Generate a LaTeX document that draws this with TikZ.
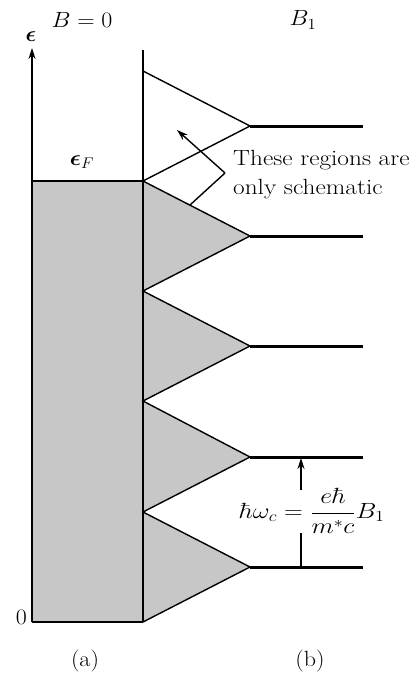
\RequirePackage{fix-cm}
\documentclass[tikz,border=0pt]{standalone}
\usepackage{amsmath}
\usetikzlibrary{arrows.meta}
\newcommand\hstretch[2]{\scalebox{#1}[1]{#2}}
\begin{document}
\begin{tikzpicture}[x=1pt,y=-1pt,
  thin line/.style={line width=1.4pt},
  level line/.style={line width=3pt},
  txt/.style={font=\fontsize{22}{29}\selectfont, inner sep=0pt},
  tip/.style={-{Stealth[length=11pt,width=7pt]}},
  shade/.style={fill=black!22}]
\useasboundingbox (0,0) rectangle (420,675);
% coordinates
\coordinate (A0) at (32,622);
\coordinate (Atop) at (32,48);
\coordinate (F0) at (32,181);
\coordinate (F1) at (143,181);
\coordinate (M0) at (143,622);
\coordinate (Mtop) at (143,50);
% shaded regions
\fill[shade] (F0) -- (F1) -- (250,236) -- (143,291) -- (250,346) -- (143,401)
  -- (250,457) -- (143,512) -- (250,567) -- (M0) -- (A0) -- cycle;
% axes and box
\draw[thin line, tip] (A0) -- (Atop);
\draw[thin line] (A0) -- (M0);
\draw[thin line] (F0) -- (F1);
\draw[thin line] (M0) -- (Mtop);
% zigzag
\draw[thin line] (143,71) -- (250,126) -- (143,181) -- (250,236) -- (143,291)
  -- (250,346) -- (143,401) -- (250,457) -- (143,512) -- (250,567) -- (M0);
% Landau levels
\foreach \y/\n in {126/1,236/2,346/3,457/4,567/5}{
  \coordinate (L\n a) at (250,\y);
  \coordinate (L\n b) at (363,\y);
  \draw[level line] (L\n a) -- (L\n b);
}
% pointer
\coordinate (V) at (225,173);
\coordinate (P1) at (177,130);
\coordinate (P2) at (190,205);
\draw[thin line, tip] (V) -- (P1);
\draw[thin line] (V) -- (P2);
% spacing arrow
\coordinate (S1) at (301,490);
\coordinate (S2) at (301,458);
\coordinate (S3) at (301,533);
\coordinate (S4) at (301,567);
\draw[thin line, tip] (S1) -- (S2);
\draw[thin line] (S3) -- (S4);
% labels
\node[txt] (lB0) at (82,20) {\hstretch{1.09}{$B = 0$}};
\node[txt] (lB1) at (303,20) {\hstretch{1.09}{$B_1$}};
\node[txt] (leps) at (31,37) {$\boldsymbol{\epsilon}$};
\node[txt] (lepsF) at (82,162) {\hstretch{1.05}{$\boldsymbol{\epsilon}_F$}};
\node[txt, anchor=east] (lzero) at (27,617) {\hstretch{1.09}{0}};
\node[txt, anchor=west] (lnote1) at (233,160) {\hstretch{1.15}{These regions are}};
\node[txt, anchor=west] (lnote2) at (233,189) {\hstretch{1.15}{only schematic}};
\node[txt] (lform) at (312,511) {\hstretch{1.18}{$\hbar\omega_c = \dfrac{e\hbar}{m^*c}B_1$}};
\node[txt] (la) at (85,661) {\hstretch{1.09}{(a)}};
\node[txt] (lb) at (310,661) {\hstretch{1.09}{(b)}};
\end{tikzpicture}
\end{document}
